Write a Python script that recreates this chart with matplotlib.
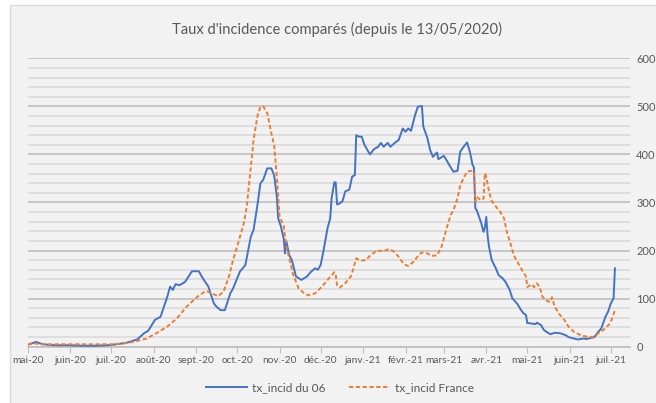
import matplotlib
matplotlib.use("Agg")
import matplotlib.pyplot as plt
from matplotlib.patches import Rectangle
from matplotlib.ticker import MultipleLocator
import pandas as pd

start = pd.Timestamp("2020-05-13")

# days since 13/05/2020 and incidence rate — Alpes-Maritimes (06)
days_06 = [0, 6, 11, 20, 30, 40, 50, 58, 62, 72, 80, 85, 88, 93, 97, 102, 104, 106, 108, 111,
           115, 120, 125, 128, 132, 136, 138, 141, 144, 148, 150, 155, 159, 163, 165, 168, 170,
           172, 175, 178, 180, 182, 183, 185, 187, 188, 189, 191, 193, 196, 200, 204, 207, 210,
           212, 214, 216, 219, 221, 222, 224, 225, 226, 228, 230, 232, 235, 237, 239, 240, 242,
           244, 246, 250, 253, 256, 258, 260, 263, 265, 269, 271, 274, 276, 278, 280, 283, 285,
           288, 289, 292, 294, 296, 299, 300, 304, 306, 308, 311, 314, 316, 319, 321, 323, 325,
           326, 327, 328, 331, 333, 334, 335, 336, 337, 339, 342, 344, 347, 349, 352, 354, 358,
           360, 362, 364, 365, 366, 371, 372, 375, 377, 380, 382, 385, 389, 393, 395, 399, 402,
           406, 408, 411, 414, 416, 419, 422, 424, 426, 428, 429]
vals_06 = [4, 10, 5, 3, 3, 2, 2, 3, 4, 8, 15, 28, 33, 56, 62, 104, 125, 118, 130, 128,
           135, 157, 157, 142, 125, 90, 83, 76, 76, 111, 121, 156, 170, 229, 243, 298, 340,
           347, 371, 371, 357, 312, 267, 250, 225, 194, 219, 191, 180, 146, 139, 146, 156, 163,
           160, 170, 198, 246, 267, 309, 342, 342, 296, 298, 303, 323, 327, 354, 357, 440, 437,
           437, 420, 400, 411, 416, 424, 416, 424, 416, 426, 430, 454, 447, 454, 449, 482, 499,
           501, 458, 434, 409, 395, 404, 390, 397, 388, 378, 364, 366, 406, 418, 425, 406, 378,
           373, 288, 284, 260, 239, 248, 270, 230, 208, 180, 163, 149, 142, 135, 119, 101, 88,
           78, 70, 66, 49, 49, 47, 50, 45, 35, 29, 26, 29, 28, 24, 20, 17, 15,
           17, 16, 18, 20, 28, 38, 62, 73, 90, 101, 163]

# days since 13/05/2020 and incidence rate — France
days_fr = [0, 4, 11, 30, 60, 68, 77, 87, 94, 102, 109, 116, 124, 130, 133, 139, 143, 147, 150,
           154, 158, 160, 163, 165, 168, 170, 172, 175, 178, 180, 182, 184, 187, 188, 189, 192,
           194, 198, 202, 205, 210, 215, 220, 224, 225, 226, 228, 232, 236, 238, 240, 243, 247,
           250, 255, 260, 264, 267, 271, 275, 278, 282, 286, 288, 292, 295, 299, 302, 304, 306,
           309, 311, 314, 316, 319, 321, 324, 326, 327, 328, 331, 333, 334, 335, 337, 339, 343,
           345, 348, 350, 353, 355, 358, 361, 364, 365, 368, 370, 372, 374, 376, 380, 382, 383,
           385, 388, 392, 395, 399, 404, 408, 411, 414, 417, 421, 425, 427, 429]
vals_fr = [4, 7, 5, 5, 5, 6, 10, 17, 28, 42, 59, 83, 104, 116, 113, 105, 114, 146, 180,
           218, 258, 291, 374, 430, 482, 499, 500, 486, 444, 420, 354, 270, 253, 229, 208, 173,
           149, 121, 111, 107, 111, 125, 142, 155, 149, 128, 123, 132, 146, 163, 184, 179, 180,
           189, 200, 199, 203, 199, 187, 171, 168, 177, 192, 196, 194, 189, 190, 205, 225, 246,
           274, 284, 309, 336, 354, 364, 366, 362, 302, 312, 305, 308, 361, 354, 323, 303, 288,
           281, 267, 239, 212, 191, 175, 160, 146, 124, 130, 124, 132, 124, 104, 94, 94, 103,
           83, 69, 56, 42, 31, 24, 21, 20, 21, 28, 36, 47, 59, 76]

month_labels = ["mai-20", "juin-20", "juil.-20", "août-20", "sept.-20", "oct.-20", "nov.-20",
                "déc.-20", "janv.-21", "févr.-21", "mars-21", "avr.-21", "mai-21", "juin-21",
                "juil.-21"]

title = "Taux d'incidence comparés (depuis le 13/05/2020)"
name_06 = "tx_incid du 06"
name_fr = "tx_incid France"

plt.rcParams["font.family"] = ["Lato", "DejaVu Sans"]

W, H = 656, 403
fig = plt.figure(figsize=(W / 100, H / 100), dpi=100, facecolor="white")
fig.patches.append(Rectangle((10 / W, -0.01), 1.02, 1 - 5 / H + 0.01, transform=fig.transFigure,
                             facecolor="#f2f2f2", edgecolor="#d9d9d9", lw=1, zorder=-1))

ax = fig.add_axes([27.7 / W, 1 - 346.7 / H, (630 - 27.7) / W, (346.7 - 58.3) / H])
ax.set_facecolor("none")

d06 = start + pd.to_timedelta(days_06, unit="D")
dfr = start + pd.to_timedelta(days_fr, unit="D")

ax.plot(d06, vals_06, color="#4472c4", lw=1.4, label=name_06, zorder=3)
ax.plot(dfr, vals_fr, color="#ed7d31", lw=1.4, ls=(0, (2.2, 1.3)), label=name_fr, zorder=3)

ax.set_ylim(0, 600)
ax.set_xlim(start, pd.Timestamp("2021-07-27"))
ax.yaxis.set_major_locator(MultipleLocator(100))
ax.yaxis.set_minor_locator(MultipleLocator(20))
ax.grid(which="minor", axis="y", color="#d9d9d9", lw=1.1, zorder=0)
ax.grid(which="major", axis="y", color="#bfbfbf", lw=1.2, zorder=0)
ax.yaxis.tick_right()
ax.tick_params(axis="y", which="both", length=0, pad=4.5, labelsize=8, labelcolor="#595959")

ticks = [start + pd.DateOffset(months=i) for i in range(len(month_labels))]
ax.set_xticks(ticks)
ax.set_xticklabels(month_labels)
ax.tick_params(axis="x", length=4, width=0.8, color="#bfbfbf", labelsize=7.3,
               labelcolor="#595959", pad=3)

for s in ["top", "left", "right"]:
    ax.spines[s].set_visible(False)
ax.spines["bottom"].set_color("#bfbfbf")
ax.spines["bottom"].set_linewidth(1.2)

fig.text(337 / W, 1 - 29 / H, title, ha="center", va="center", fontsize=10.6, color="#595959")

fig.legend(loc="center", bbox_to_anchor=(340 / W, 1 - 388 / H), ncol=2, frameon=False,
           fontsize=8.6, labelcolor="#595959", handlelength=3.4, columnspacing=2.0,
           handletextpad=0.4)

fig.savefig("out.png", dpi=100, facecolor=fig.get_facecolor())
